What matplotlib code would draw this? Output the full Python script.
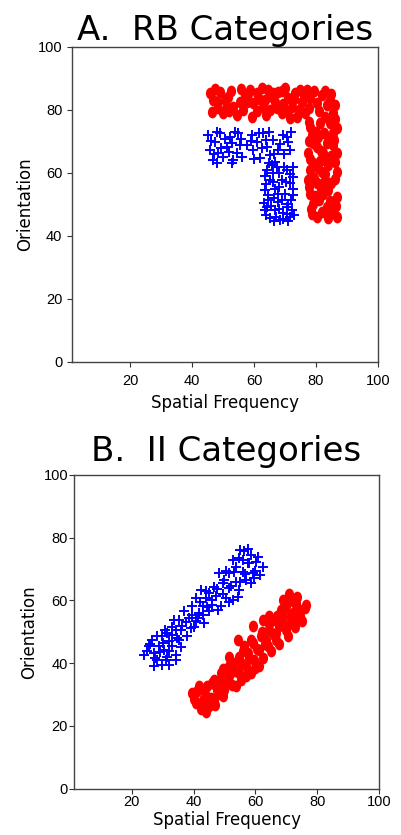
import matplotlib
matplotlib.use('Agg')
import numpy as np
import matplotlib.pyplot as plt
from matplotlib.path import Path

# ---- panel A: rule-based categories ----
rb_red_x = [45.8, 46.3, 48.0, 49.0, 50.1, 51.7, 53.3, 54.4, 55.5, 57.1, 58.7, 59.2, 59.8, 60.9,
            62.5, 63.5, 64.6, 65.2, 66.8, 67.8, 68.9, 70.0, 71.1, 72.1, 73.2, 73.8, 75.4, 77.0,
            78.1, 76.4, 80.2, 81.8, 83.4, 84.5, 85.6, 82.9, 63.0, 51.2, 46.9, 66.2, 74.8, 71.6,
            47.5, 48.5, 50.5, 52.5, 52.0, 56.5, 57.8, 61.5, 61.0, 63.8, 65.8, 67.5, 69.5, 70.5,
            72.8, 74.5, 76.0, 77.8, 79.5, 81.0, 83.0, 85.0, 86.0, 58.0, 55.8, 69.0,
            78.1, 81.3, 86.7, 78.6, 84.0, 80.2, 85.6, 77.5, 82.4, 86.7, 79.1, 84.0, 81.8, 86.7,
            77.5, 80.2, 85.0, 78.1, 82.4, 86.8, 79.1, 83.4, 85.6, 80.2, 86.7, 78.1, 82.9, 80.7,
            84.5, 79.0, 83.0, 81.0, 84.0, 78.5, 85.5,
            77.8, 80.0, 82.5, 86.0, 77.6, 81.5, 84.8, 78.0, 80.5, 86.2, 83.0, 79.2, 86.0, 81.5,
            77.8, 84.5, 79.8, 86.5, 82.0, 78.8, 84.0, 81.2, 83.5, 85.8]
rb_red_y = [85.3, 79.4, 82.6, 85.8, 78.9, 84.2, 81.0, 78.4, 82.6, 84.7, 86.3, 77.8, 82.1, 85.3,
            86.9, 83.1, 86.3, 80.0, 82.6, 85.8, 78.9, 86.9, 83.7, 81.0, 85.3, 77.8, 82.6, 86.3,
            83.7, 78.9, 82.1, 84.7, 81.5, 83.1, 78.9, 77.8, 81.0, 81.0, 83.1, 85.3, 86.3, 77.3,
            86.5, 80.5, 83.0, 86.0, 79.5, 80.0, 82.5, 83.5, 79.5, 78.5, 84.0, 80.5, 82.0, 79.5,
            83.5, 80.0, 84.5, 80.5, 86.0, 79.5, 86.0, 85.0, 81.5, 85.0, 86.5, 86.0,
            74.7, 75.7, 74.1, 72.0, 71.5, 68.3, 68.8, 66.2, 66.2, 66.2, 63.0, 62.4, 60.3, 60.3,
            57.7, 56.6, 56.6, 53.4, 53.4, 52.4, 50.2, 49.2, 47.1, 46.0, 46.0, 60.9, 57.7, 71.5,
            75.7, 69.5, 64.0, 51.5, 54.5, 48.5, 72.5,
            76.0, 73.0, 72.8, 77.0, 70.0, 67.0, 65.5, 64.5, 61.5, 63.5, 59.5, 58.5, 58.0, 55.0,
            55.5, 51.0, 52.5, 49.5, 47.5, 46.8, 45.5, 63.8, 69.5, 70.5]
rb_blue_x = [45.3, 45.8, 47.4, 49.0, 50.1, 48.5, 51.2, 52.2, 53.3, 54.9, 55.5, 54.4, 46.9, 59.2,
             59.8, 60.9, 61.9, 63.0, 64.1, 65.2, 66.2, 67.8, 69.5, 71.1, 71.6, 57.6, 66.8,
             46.0, 47.0, 48.0, 49.5, 50.8, 51.8, 53.0, 53.8, 55.8, 52.8, 56.0, 48.2, 59.0, 60.0,
             61.5, 62.5, 63.8, 65.0, 66.5, 68.5, 69.8, 70.5, 72.0, 64.8,
             64.1, 67.3, 70.5, 72.7, 65.2, 68.9, 71.6, 63.5, 66.8, 70.0, 72.7, 64.6, 67.8, 71.1,
             63.5, 66.8, 69.5, 72.1, 65.2, 68.4, 71.6, 66.2, 72.7, 67.8, 64.1, 70.5,
             63.5, 65.8, 68.0, 69.8, 71.5, 63.8, 66.0, 68.0, 70.2, 72.5, 64.5, 66.5, 69.0, 71.8,
             63.2, 65.5, 68.0, 70.8, 72.8, 64.0, 67.0, 69.5, 66.5, 71.0]
rb_blue_y = [72.0, 67.2, 69.9, 72.5, 65.1, 66.2, 68.3, 71.5, 64.0, 72.5, 68.8, 66.2, 64.0, 72.0,
             67.2, 69.9, 64.6, 72.5, 68.3, 65.6, 70.4, 67.2, 72.0, 69.9, 67.2, 68.8, 63.5,
             70.0, 66.0, 73.0, 68.0, 70.8, 66.5, 69.5, 73.0, 70.8, 63.0, 65.0, 63.2, 70.0, 64.5,
             72.8, 68.0, 70.5, 73.0, 66.0, 69.0, 66.0, 71.5, 73.0, 63.0,
             60.9, 61.9, 60.9, 61.9, 57.7, 57.7, 56.6, 54.5, 55.0, 53.4, 52.9, 51.3, 50.8, 50.2,
             48.1, 48.1, 47.1, 48.1, 45.5, 44.9, 46.0, 59.8, 58.7, 53.4, 49.2, 49.2,
             59.0, 62.5, 60.0, 62.0, 59.5, 56.5, 57.0, 55.5, 57.0, 55.0, 53.0, 52.0, 51.5, 51.5,
             50.5, 49.5, 48.5, 47.0, 46.5, 46.5, 46.0, 45.2, 44.8, 44.8]

# ---- panel B: information-integration categories ----
ii_blue_x = [56.4, 58.6, 54.8, 52.6, 60.2, 62.4, 57.5, 53.7, 55.9, 51.5, 59.1, 59.7, 57.0, 53.7,
             48.3, 49.4, 51.5, 54.8, 46.7, 45.0, 42.3, 43.9, 47.2, 50.5, 52.6, 40.7, 46.1, 48.8,
             42.9, 39.6, 45.0, 41.8, 36.9, 38.5, 35.3, 40.7, 43.4, 33.7, 36.4, 39.1, 34.2, 30.9,
             29.9, 33.1, 32.0, 35.3, 26.6, 28.8, 25.5, 23.9, 27.1, 30.4, 33.1, 34.2, 31.5, 28.2,
             29.9, 27.1, 32.0, 34.2,
             25.0, 26.0, 27.5, 29.0, 28.0, 30.0, 31.0, 32.0, 31.5, 33.0, 34.5, 35.8, 36.0, 37.5,
             38.0, 39.5, 40.0, 41.5, 42.0, 43.0, 44.5, 44.0, 46.0, 47.5, 48.0, 49.5, 50.0, 51.5,
             52.0, 53.0, 54.5, 55.0, 56.0, 56.5, 58.0, 58.5, 60.0, 61.0, 61.5, 55.0, 57.5, 50.5]
ii_blue_y = [75.6, 74.5, 73.5, 72.9, 72.4, 70.8, 71.9, 70.8, 69.2, 68.7, 68.7, 67.1, 66.6, 66.0,
             68.7, 65.5, 63.9, 63.4, 64.4, 62.3, 63.4, 60.7, 61.3, 60.7, 60.2, 60.7, 58.6, 58.1,
             58.1, 58.1, 56.5, 56.0, 56.5, 54.4, 53.8, 53.3, 52.8, 53.8, 51.7, 51.2, 50.6, 50.6,
             48.5, 49.0, 46.9, 47.5, 47.5, 45.3, 45.3, 42.7, 43.2, 44.3, 45.3, 42.7, 42.1, 41.1,
             39.5, 39.0, 39.5, 41.1,
             44.0, 46.0, 41.5, 43.5, 48.5, 46.5, 41.0, 44.0, 49.5, 51.5, 48.0, 45.0, 50.5, 53.0,
             48.5, 55.5, 51.5, 54.5, 59.5, 55.5, 58.0, 63.0, 60.0, 63.5, 57.0, 62.0, 66.5, 59.5,
             64.5, 69.0, 61.0, 66.0, 73.0, 68.5, 72.0, 65.5, 69.5, 74.0, 68.0, 76.0, 76.5, 69.5]
ii_red_x = [39.6, 40.7, 42.3, 43.9, 45.0, 41.8, 44.5, 46.7, 47.7, 46.7, 48.8, 50.5, 49.4, 51.5,
            51.5, 53.7, 54.8, 54.8, 54.3, 57.0, 57.0, 57.5, 59.1, 59.1, 59.7, 61.3, 61.8, 62.4,
            63.5, 64.5, 65.6, 66.7, 67.8, 68.9, 70.0, 71.1, 72.1, 73.2, 74.3, 75.9, 71.1, 68.3,
            66.7, 64.0, 61.3, 58.6, 42.9, 47.2, 51.5, 56.4, 64.5, 68.9, 73.2, 70.0,
            40.0, 41.0, 42.5, 43.5, 44.0, 45.5, 46.0, 47.0, 48.0, 48.5, 49.5, 50.0, 51.0, 52.5,
            52.8, 53.5, 55.5, 55.5, 56.0, 58.0, 58.5, 60.0, 60.5, 62.0, 62.5, 63.0, 64.5, 65.0,
            66.0, 67.0, 67.5, 69.0, 69.5, 70.5, 71.5, 72.5, 72.8, 74.5, 75.0, 76.5, 73.5, 71.0]
ii_red_y = [30.5, 27.3, 25.2, 29.4, 26.2, 32.6, 32.6, 34.7, 31.5, 28.3, 36.8, 33.7, 29.4, 39.0,
            35.8, 32.6, 36.8, 42.1, 47.4, 39.0, 35.8, 43.2, 46.4, 51.7, 41.1, 44.3, 48.5, 53.8,
            47.4, 50.6, 53.8, 47.4, 51.7, 54.9, 58.1, 52.8, 56.0, 59.1, 54.9, 57.5, 60.7, 57.0,
            49.6, 45.3, 39.0, 36.8, 28.3, 32.6, 42.1, 45.3, 54.9, 60.2, 53.8, 50.6,
            28.5, 31.0, 27.0, 31.5, 24.5, 29.0, 33.5, 26.5, 30.0, 34.5, 38.0, 31.5, 36.5, 33.0,
            40.0, 37.5, 40.0, 34.5, 44.0, 41.5, 47.5, 38.5, 44.5, 50.0, 41.5, 46.0, 52.5, 44.0,
            49.0, 55.0, 46.0, 52.0, 57.5, 48.5, 55.0, 59.5, 51.5, 57.0, 53.5, 58.5, 61.0, 62.0]

titles = ['A.  RB Categories', 'B.  II Categories']
xticks = [20, 40, 60, 80, 100]
yticks = [0, 20, 40, 60, 80, 100]

# slightly tall ellipse marker, like the stretched originals
circ = Path.unit_circle()
ellipse = Path(circ.vertices * np.array([0.78, 1.0]), circ.codes)

fig = plt.figure(figsize=(4.01, 8.35), dpi=100)
axA = fig.add_axes([72 / 401, 1 - 361.5 / 835, 306 / 401, 314.5 / 835])
axB = fig.add_axes([74 / 401, 1 - 788.5 / 835, 305 / 401, 313.5 / 835])

# the two panels were laid out a little differently in the original
panels = [
    dict(ax=axA, rx=rb_red_x, ry=rb_red_y, bx=rb_blue_x, by=rb_blue_y, title=titles[0],
         xpad=5.5, ypad=3.5, xlabpad=4, ylabpad=2.5, tpad=5),
    dict(ax=axB, rx=ii_red_x, ry=ii_red_y, bx=ii_blue_x, by=ii_blue_y, title=titles[1],
         xpad=1.5, ypad=0.8, xlabpad=1, ylabpad=4, tpad=10),
]

for p in panels:
    ax = p['ax']
    ax.scatter(p['rx'], p['ry'], marker=ellipse, s=72, color='#ff0000', linewidths=0)
    ax.scatter(p['bx'], p['by'], marker='+', s=42, color='#0000ff', linewidths=1.4)
    ax.set_xlim(1.3, 100)
    ax.set_ylim(0, 100)
    ax.set_xticks(xticks)
    ax.set_yticks(yticks)
    for lab in ax.get_xticklabels() + ax.get_yticklabels():
        lab.set_family('Liberation Sans')
        lab.set_fontsize(10.5)
    ax.tick_params(length=3.5, width=0.8, color='#333333')
    ax.tick_params(axis='x', pad=p['xpad'])
    ax.tick_params(axis='y', pad=p['ypad'])
    for sp in ax.spines.values():
        sp.set_color('#444444')
        sp.set_linewidth(1)
    ax.set_xlabel('Spatial Frequency', fontsize=12, labelpad=p['xlabpad'])
    ax.set_ylabel('Orientation', fontsize=12, labelpad=p['ylabpad'])
    ax.set_title(p['title'], fontsize=24.5, pad=p['tpad'])

fig.savefig('out.png', dpi=100)
